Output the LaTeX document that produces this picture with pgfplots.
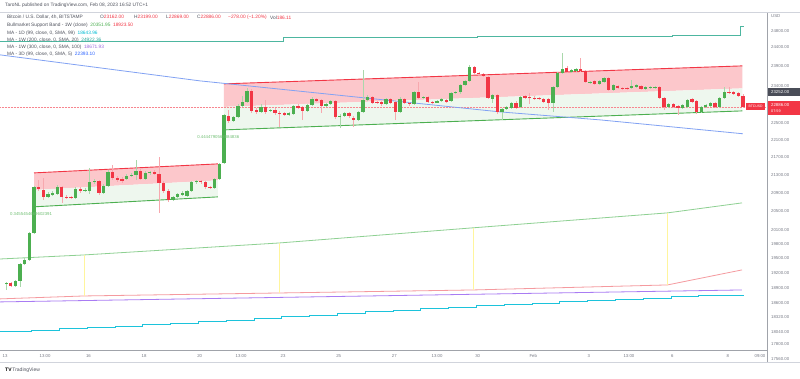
\documentclass[border=0pt]{standalone}
\usepackage{pgfplots}
\pgfplotsset{compat=1.18}
\usepackage{pgfplotstable}
\usepackage{fontspec}
\setmainfont{Liberation Sans}
\definecolor{cgreen}{HTML}{4CAF50}
\definecolor{cred}{HTML}{F23645}
\definecolor{gwick}{HTML}{A9D8AB}
\definecolor{rwick}{HTML}{F7A8AE}
\definecolor{pinkfill}{HTML}{FCC7CB}
\definecolor{greenfill}{HTML}{EEF7EE}
\definecolor{cteal}{HTML}{4DB6A0}
\definecolor{cblue}{HTML}{82A2F3}
\definecolor{bmsbg}{HTML}{8ED092}
\definecolor{bmsbr}{HTML}{F59A9F}
\definecolor{cpurple}{HTML}{A97CF3}
\definecolor{ccyan}{HTML}{1CC3DB}
\definecolor{cyell}{HTML}{FFF59D}
\definecolor{tvtext}{HTML}{50535E}
\definecolor{tvgrey}{HTML}{787B86}
\definecolor{tvline}{HTML}{D1D4DC}
\definecolor{tvdark}{HTML}{4A4D58}
\definecolor{legblue}{HTML}{2962FF}
\definecolor{legpurple}{HTML}{9C6ADE}
\definecolor{legteal}{HTML}{26A69A}
\definecolor{legcyan}{HTML}{00BCD4}
\newcommand\ft[1]{\fontsize{#1}{#1}\selectfont}

% 4h candles, x = candle index (0 = Jan 13 01:00), prices in USD
\pgfplotstableread{
x o h l c
0 18978 19018 18858 18998
2 18938 19059 18918 19039
3 19039 19405 18918 19385
4 19385 19508 19364 19467
5 19467 20054 19447 20032
6 20032 21055 20011 21033
9 20811 20922 20789 20877
10 20855 20944 20833 20899
11 20877 21077 20855 21033
15 20789 21033 20767 20988
17 20944 21011 20922 20966
18 20944 21461 20877 21144
19 21144 21212 21100 21167
21 20899 21100 20877 21055
22 21055 21415 21033 21370
26 21212 21325 21189 21279
27 21279 21347 21257 21302
28 21302 21643 21189 21393
30 21212 21393 21189 21347
31 21347 21393 21302 21370
36 20745 20833 20723 20811
37 20811 20899 20789 20877
38 20855 20944 20833 20899
39 20833 20966 20811 20944
40 20944 21167 20922 21144
41 21144 21189 21100 21167
45 21011 21234 20988 21212
46 21212 21575 21189 21552
47 21575 22724 21552 22700
49 22556 22676 22532 22652
50 22652 22966 22628 22918
51 22918 23161 22893 23015
52 23015 23358 22990 23284
55 22772 22966 22748 22893
57 22796 22845 22772 22820
61 22700 22772 22676 22748
62 22724 22942 22700 22918
65 22796 22966 22772 22942
66 22942 23137 22918 23088
69 22918 22990 22893 22966
70 22966 23063 22942 23039
72 22652 22724 22390 22676
73 22676 22772 22652 22748
76 22580 22796 22556 22772
77 22772 23808 22748 23063
78 23063 23186 23039 23137
82 22966 23112 22942 23088
85 22772 23137 22748 23088
88 22966 23284 22942 23260
90 23112 23161 23088 23137
93 22995 23063 22990 23039
94 23039 23112 23015 23088
96 23039 23260 23015 23235
97 23235 23284 23211 23260
98 23245 23458 23211 23433
99 23433 23558 23408 23533
100 23533 23935 23508 23884
105 23088 23211 22990 23186
107 22772 22869 22580 22845
108 22845 22918 22820 22893
109 22869 23015 22845 22990
111 22893 23161 22869 23137
118 22990 23408 22772 23383
119 23383 23758 23358 23733
120 23733 24242 23708 23834
122 23758 23834 23733 23808
123 23783 23859 23758 23834
126 23483 23533 23458 23508
128 23458 23558 23433 23533
129 23508 23633 23483 23608
131 23309 23458 23284 23433
135 23358 23558 23334 23408
136 23383 23458 23358 23433
138 23334 23408 23309 23383
139 23358 23408 23334 23383
140 23370 23408 23334 23390
143 22893 22990 22869 22966
146 22869 22966 22845 22942
147 22893 23088 22869 23063
150 22772 22918 22748 22893
151 22893 22966 22869 22942
152 22918 23015 22893 22990
154 22893 23137 22869 23112
155 23112 23383 23088 23260
}\greenc

\pgfplotstableread{
x o h l c
1 18998 19018 18918 18938
7 21033 21189 20944 20988
8 20966 21234 20745 20811
12 21033 21055 20679 20811
13 20811 20855 20767 20789
14 20805 20833 20767 20785
16 20988 21033 20899 20944
20 21167 21189 20855 20899
23 21370 21529 21189 21234
24 21234 21279 21144 21189
25 21212 21257 21122 21167
29 21393 21438 21189 21212
32 21370 21415 21302 21325
33 21325 21713 20461 21122
34 21122 21167 20899 20944
35 20944 20988 20701 20745
42 21167 21189 21100 21144
43 21144 21167 20988 21033
44 21033 21055 20988 21011
48 22676 22820 22509 22556
53 23284 23334 22748 22796
54 22820 22869 22724 22772
56 22893 23063 22724 22772
58 22820 22869 22700 22748
59 22748 22796 22413 22724
60 22748 22772 22676 22700
63 22918 22966 22845 22869
64 22893 22918 22580 22796
67 23088 23112 23015 23039
68 23063 23088 22748 22918
71 23039 23063 22604 22652
74 22748 22772 22628 22676
75 22628 22676 22413 22580
79 23137 23161 22966 22990
80 23015 23039 22966 22990
81 23015 23039 22918 22966
83 23088 23112 22966 22990
84 23015 23039 22580 22772
86 23088 23112 22966 22990
87 22990 23015 22918 22966
89 23260 23508 23088 23112
91 23137 23161 22990 23015
92 23015 23039 22966 22990
95 23063 23088 22990 23015
101 23884 23910 23708 23733
102 23733 23758 23683 23708
103 23708 23733 23633 23658
104 23633 23658 23088 23112
106 23186 23211 22724 22772
110 22990 23039 22845 22869
112 23161 23186 23088 23112
113 23125 23235 22966 23100
114 23120 23161 23063 23088
115 23112 23137 23063 23088
116 23088 23112 22990 23015
117 23088 23112 22820 22990
121 23859 23910 23733 23758
124 23834 24114 23758 23783
125 23783 23808 23483 23508
127 23533 23558 23433 23458
130 23608 23633 23284 23309
132 23408 23433 23334 23358
133 23358 23383 23309 23334
134 23360 23383 23309 23334
137 23408 23433 23309 23334
141 23383 23408 23088 23112
142 23112 23137 22820 22893
144 22966 22990 22869 22893
145 22918 22942 22700 22869
148 23088 23112 22990 23015
149 23039 23063 22724 22772
153 22990 23015 22869 22893
156 23260 23383 23211 23235
157 23250 23284 23186 23211
158 23235 23260 23137 23161
159 23162 23199 22869 22886
}\redc

% MA - 1D (99): daily values (step at each new day)
\pgfplotstableread{
x y
-1.34 18039
5.5 18066
11.5 18097
17.5 18123
23.5 18150
29.5 18177
35.5 18200
41.5 18231
47.5 18262
53.5 18295
59.5 18328
65.5 18361
71.5 18394
77.5 18426
83.5 18457
89.5 18484
95.5 18514
101.5 18543
107.5 18569
113.5 18596
119.5 18622
125.5 18651
131.5 18675
137.5 18697
143.5 18719
149.5 18741
155.5 18755
159.3 18755
}\maday

\begin{document}
\begin{tikzpicture}[x=1pt,y=1pt]
\path[use as bounding box, fill=white] (0,0) rectangle (800,378);
\begin{axis}[
  at={(0pt,28pt)}, anchor=south west,
  width=767pt, height=336pt, scale only axis,
  xmin=-1.34, xmax=164.2,
  ymode=log, ymin=17697, ymax=25264,
  axis line style={draw=none},
  major tick length=0pt, minor tick num=0,
  xtick={-0.25,8.4,17.75,29.75,41.75,50.7,59.75,71.75,83.75,93,101.75,113.75,125.75,134.4,143.75,155.75},
  xticklabels={13,13:00,16,18,20,13:00,23,25,27,13:00,30,Feb,3,13:00,6,8},
  ytick={24800,24400,23900,23400,22500,22100,21700,21300,20900,20500,20100,19800,19500,19200,18900,18600,18320,18040,17800},
  yticklabels={24800.00,24400.00,23900.00,23400.00,22500.00,22100.00,21700.00,21300.00,20900.00,20500.00,20100.00,19800.00,19500.00,19200.00,18900.00,18600.00,18320.00,18040.00,17800.00},
  yticklabel pos=right,
  x tick label style={font=\ft{4.3}, text=tvgrey, inner sep=0pt, yshift=-4pt},
  y tick label style={font=\ft{4.3}, text=tvgrey, anchor=west, inner sep=0pt, xshift=4pt},
  clip=true,
]
% channel 1
\addplot[fill=pinkfill, draw=none, forget plot] coordinates {(6,21347) (45.7,21552) (45.7,21178) (6,20966)} --cycle;
\addplot[fill=greenfill, draw=none, forget plot] coordinates {(6,20966) (45.7,21178) (45.7,20811) (6,20593)} --cycle;
\addplot[cred, line width=0.9pt, forget plot] coordinates {(6,21347) (45.7,21552)};
\addplot[cgreen, line width=0.9pt, forget plot] coordinates {(6,20593) (45.7,20811)};
% channel 2
\addplot[fill=pinkfill, draw=none, forget plot] coordinates {(47,23458) (158.9,23910) (158.9,23346) (47,22893)} --cycle;
\addplot[fill=greenfill, draw=none, forget plot] coordinates {(47,22893) (158.9,23346) (158.9,22796) (47,22342)} --cycle;
\addplot[cred, line width=0.9pt, forget plot] coordinates {(47,23458) (158.9,23910)};
\addplot[cgreen, line width=0.9pt, forget plot] coordinates {(47,22342) (158.9,22796)};
% current price line
\addplot[cred!60, densely dotted, line width=0.5pt, forget plot] coordinates {(-1.34,22886) (164.2,22886)};
% MA 1W 200
\addplot[cteal, line width=0.8pt, forget plot] coordinates {(-1.34,24526) (59.75,24526) (59.75,24630) (101.75,24630) (101.75,24656) (143.75,24656) (143.75,24682) (158.5,24682) (158.5,24919) (159.3,24919)};
% MA 3D 99
\addplot[cblue, line width=0.8pt, forget plot] coordinates {(-1.34,24190) (41.8,23533) (106.6,22772) (128.2,22580) (159.0,22250)};
% Bull market support band
\addplot[bmsbg, line width=0.8pt, forget plot] coordinates {(-1.34,19488) (16.8,19571) (58.9,19822) (100.8,20140) (142.7,20461) (158.8,20679)};
\addplot[bmsbr, line width=0.8pt, forget plot] coordinates {(-1.34,18680) (16.8,18739) (58.9,18799) (100.8,18858) (142.7,18958) (158.8,19262)};
\addplot[cyell, line width=0.8pt, forget plot] coordinates {(16.8,19571) (16.8,18739)};
\addplot[cyell, line width=0.8pt, forget plot] coordinates {(58.9,19822) (58.9,18799)};
\addplot[cyell, line width=0.8pt, forget plot] coordinates {(100.8,20140) (100.8,18858)};
\addplot[cyell, line width=0.8pt, forget plot] coordinates {(142.7,20461) (142.7,18958)};
% MA 1W 300
\addplot[cpurple, line width=0.8pt, forget plot] coordinates {(-1.34,18620) (158.8,18858)};
% MA 1D 99
\addplot[ccyan, line width=1.1pt, const plot, forget plot] table[x=x, y=y] \maday;
% candles: wicks (low to high) and bodies (open to close)
\addplot[draw=none, mark=none, forget plot, error bars/.cd, y dir=plus, y explicit, error mark=none, error bar style={line width=0.6pt, draw=gwick}] table[x=x, y=l, y error expr=\thisrow{h}-\thisrow{l}] \greenc;
\addplot[draw=none, mark=none, forget plot, error bars/.cd, y dir=plus, y explicit, error mark=none, error bar style={line width=0.6pt, draw=rwick}] table[x=x, y=l, y error expr=\thisrow{h}-\thisrow{l}] \redc;
\addplot[draw=none, mark=none, forget plot, error bars/.cd, y dir=plus, y explicit, error mark=none, error bar style={line width=3.3pt, draw=cgreen}] table[x=x, y=o, y error expr=\thisrow{c}-\thisrow{o}] \greenc;
\addplot[draw=none, mark=none, forget plot, error bars/.cd, y dir=plus, y explicit, error mark=none, error bar style={line width=3.3pt, draw=cred}] table[x=x, y=c, y error expr=\thisrow{o}-\thisrow{c}] \redc;
% channel labels
\node[anchor=west, font=\ft{4.3}, text=cgreen!80, inner sep=0pt] at (axis cs:0.8,20440) {0.3455454669602391};
\node[anchor=west, font=\ft{4.3}, text=cgreen!80, inner sep=0pt] at (axis cs:41.2,22177) {0.4444790568884836};
\end{axis}
% frame / decorations in image pixel coordinates
\begin{scope}[shift={(0,378)}, y=-1pt]
\draw[tvline, line width=0.5pt] (0,12.5) -- (800,12.5);
\draw[tvgrey!70, line width=0.6pt] (0,350) -- (767,350);
\draw[tvgrey!70, line width=0.6pt] (767,13) -- (767,362);
\draw[tvline, line width=0.5pt] (0,362) -- (800,362);
\begin{scope}\clip (0,340) rectangle (767,362);
\node[font=\ft{4.3}, text=tvgrey] at (760,356) {09:00};
\end{scope}
\node[anchor=west, font=\ft{4.3}, text=tvgrey, inner sep=0pt] at (771,16) {USD};
\node[anchor=west, font=\ft{4.3}, text=tvgrey, inner sep=0pt] at (771,359) {17560.00};
% price boxes
\fill[cred] (746,103) rectangle (765,110);
\node[font=\ft{3.4}, text=white, inner sep=0pt] at (755.5,106.5) {BTCUSD};
\fill[cred] (768,101) rectangle (800,115);
\node[anchor=west, font=\ft{4.3}, text=white, inner sep=0pt] at (771,105) {22886.00};
\node[anchor=west, font=\ft{3.8}, text=white, inner sep=0pt] at (771,111.5) {07:59};
\fill[tvdark] (768,88) rectangle (800,96);
\node[anchor=west, font=\ft{4.3}, text=white, inner sep=0pt] at (771,92) {23252.00};
% header and legend
\node[anchor=west, font=\ft{4.8}, text=tvtext, inner sep=0pt] at (5,5.5) {TaroNL published on TradingView.com, Feb 08, 2023 16:52 UTC+1};
\begin{scope}[every node/.style={anchor=west, font=\ft{4.8}, text=tvtext, inner sep=0pt}]
\node at (7,17.3) {Bitcoin / U.S. Dollar, 4h, BITSTAMP};
\node at (100,17.3) {O\textcolor{cred}{23162.00}};
\node at (134,17.3) {H\textcolor{cred}{23199.00}};
\node at (166,17.3) {L\textcolor{cred}{22869.00}};
\node at (197,17.3) {C\textcolor{cred}{22886.00}};
\node at (228,17.3) {\textcolor{cred}{−278.00 (−1.20\%)}};
\node at (270,17.3) {Vol\textcolor{cred}{186.11}};
\node at (7,25.7) {Bullmarket Support Band - 1W (close)\ \ \textcolor{cgreen}{20351.95}\ \ \textcolor{cred}{18923.50}};
\node at (7,32.8) {MA - 1D (99, close, 0, SMA, 99)\ \ \textcolor{legcyan}{18643.96}};
\node at (7,40.2) {MA - 1W (200, close, 0, SMA, 20)\ \ \textcolor{legteal}{24922.36}};
\node at (7,47.4) {MA - 1W (300, close, 0, SMA, 100)\ \ \textcolor{legpurple}{18671.93}};
\node at (7,54.4) {MA - 3D (99, close, 0, SMA, 5)\ \ \textcolor{legblue}{22393.10}};
\end{scope}
\node[anchor=west, font=\ft{5}, text=black, inner sep=0pt] at (5,370) {\textbf{TV}\,\textcolor{tvtext}{TradingView}};
\end{scope}
\end{tikzpicture}
\end{document}
